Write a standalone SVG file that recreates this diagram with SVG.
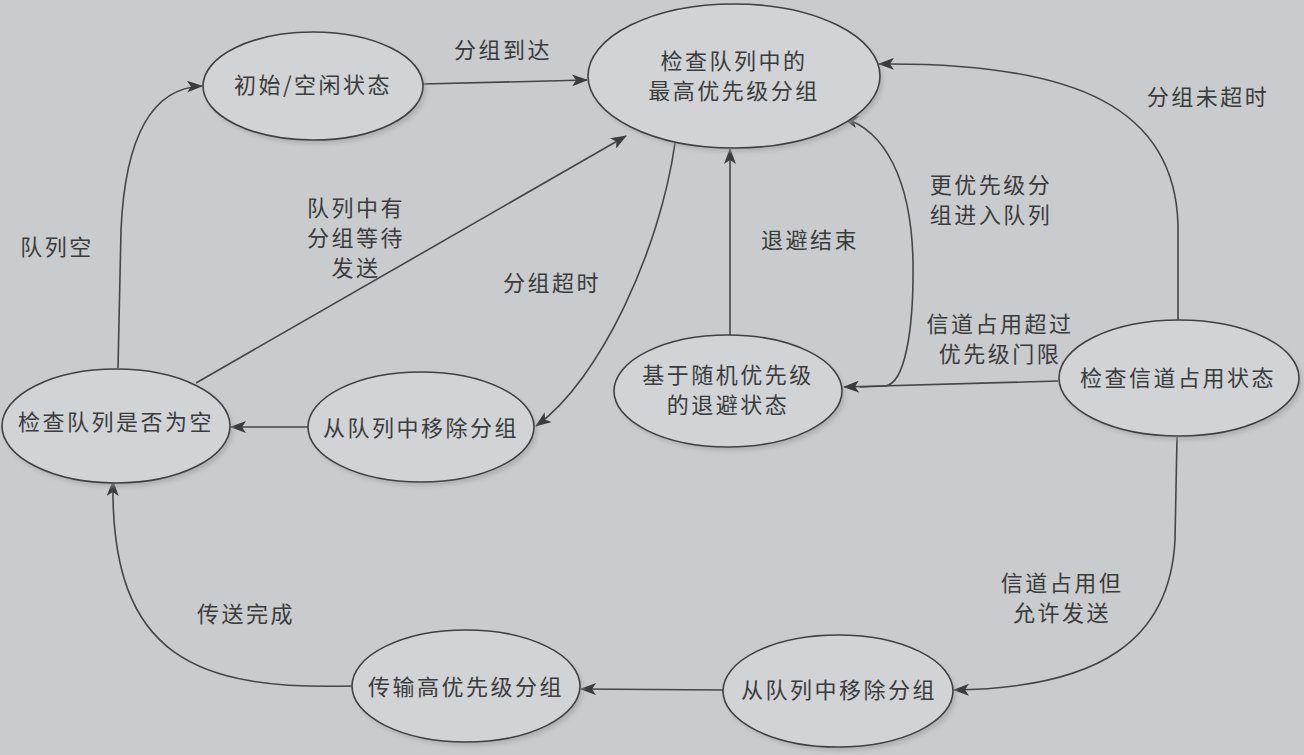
<svg xmlns="http://www.w3.org/2000/svg" width="1304" height="755" viewBox="0 0 1304 755">
<defs>
<style>
.node{fill:#d1d3d4;stroke:#3f4142;stroke-width:1.6}
.sh{fill:#9fa2a3;opacity:0.6}
.t{font-family:"Noto Sans CJK SC","Noto Sans CJK TC",sans-serif;font-size:22px;fill:#3a3c3d;text-anchor:middle;letter-spacing:2.5px}
.c{fill:none;stroke:#444647;stroke-width:1.6}
</style>
<marker id="ah" markerWidth="16" markerHeight="12" refX="15" refY="6" orient="auto" markerUnits="userSpaceOnUse">
<path d="M0,0 L16,6 L0,12 L4,6 Z" fill="#3a3c3d"/>
</marker>
<filter id="bl" x="-10%" y="-10%" width="120%" height="130%"><feGaussianBlur stdDeviation="2"/></filter>
</defs>
<rect width="1304" height="755" fill="#c9cbcc"/>

<g id="connectors">
<path class="c" d="M423,84 L587,80" marker-end="url(#ah)"/>
<path class="c" d="M118,368 L121,230 C125,140 150,88 202,86" marker-end="url(#ah)"/>
<path class="c" d="M196,383 L626,136" marker-end="url(#ah)"/>
<path class="c" d="M675,143 C660,250 600,380 536,426" marker-end="url(#ah)"/>
<path class="c" d="M308,427 L231,427" marker-end="url(#ah)"/>
<path class="c" d="M730,335 L730,149" marker-end="url(#ah)"/>
<path class="c" d="M860,387 L885,386 C905,384 914,330 913,260 C911,180 885,130 843,118" marker-end="url(#ah)"/>
<path class="c" d="M1058,381 L844,387" marker-end="url(#ah)"/>
<path class="c" d="M1178,320 L1178,225 C1175,110 1080,62 879,64" marker-end="url(#ah)"/>
<path class="c" d="M1177,437 L1175,540 C1170,640 1100,688 954,690" marker-end="url(#ah)"/>
<path class="c" d="M723,690 L581,689" marker-end="url(#ah)"/>
<path class="c" d="M352,686 C200,690 110,660 113,481" marker-end="url(#ah)"/>
</g>

<g id="labels">
<text class="t" x="503" y="58">分组到达</text>
<text class="t" x="57" y="255">队列空</text>
<text class="t" x="356" y="216"><tspan x="356">队列中有</tspan><tspan x="356" dy="30">分组等待</tspan><tspan x="356" dy="30">发送</tspan></text>
<text class="t" x="552" y="291">分组超时</text>
<text class="t" x="810" y="248">退避结束</text>
<text class="t" x="991" y="193"><tspan x="991">更优先级分</tspan><tspan x="991" dy="30">组进入队列</tspan></text>
<text class="t" x="1000" y="332"><tspan x="1000">信道占用超过</tspan><tspan x="1000" dy="30">优先级门限</tspan></text>
<text class="t" x="1208" y="105">分组未超时</text>
<text class="t" x="1062" y="591"><tspan x="1062">信道占用但</tspan><tspan x="1062" dy="30">允许发送</tspan></text>
<text class="t" x="246" y="622">传送完成</text>
</g>

<g id="n_idle">
<ellipse class="sh" cx="316" cy="90" rx="110" ry="54" filter="url(#bl)"/>
<ellipse class="node" cx="313" cy="86" rx="110" ry="54"/>
<text class="t" x="313" y="93">初始/空闲状态</text>
</g>
<g id="n_check_top">
<ellipse class="sh" cx="737" cy="80" rx="146" ry="72" filter="url(#bl)"/>
<ellipse class="node" cx="734" cy="76" rx="146" ry="72"/>
<text class="t" x="734" y="69"><tspan x="734">检查队列中的</tspan><tspan x="734" dy="30">最高优先级分组</tspan></text>
</g>
<g id="n_check_empty">
<ellipse class="sh" cx="119" cy="430" rx="114" ry="57" filter="url(#bl)"/>
<ellipse class="node" cx="116" cy="426" rx="114" ry="57"/>
<text class="t" x="116" y="430">检查队列是否为空</text>
</g>
<g id="n_remove_mid">
<ellipse class="sh" cx="424" cy="431" rx="113" ry="55" filter="url(#bl)"/>
<ellipse class="node" cx="421" cy="427" rx="113" ry="55"/>
<text class="t" x="421" y="436">从队列中移除分组</text>
</g>
<g id="n_backoff">
<ellipse class="sh" cx="731" cy="395" rx="114" ry="56" filter="url(#bl)"/>
<ellipse class="node" cx="728" cy="391" rx="114" ry="56"/>
<text class="t" x="728" y="383"><tspan x="728">基于随机优先级</tspan><tspan x="728" dy="30">的退避状态</tspan></text>
</g>
<g id="n_channel">
<ellipse class="sh" cx="1182" cy="382" rx="120" ry="58" filter="url(#bl)"/>
<ellipse class="node" cx="1179" cy="378" rx="120" ry="58"/>
<text class="t" x="1178" y="386">检查信道占用状态</text>
</g>
<g id="n_transmit">
<ellipse class="sh" cx="469" cy="690" rx="114" ry="56" filter="url(#bl)"/>
<ellipse class="node" cx="466" cy="686" rx="114" ry="56"/>
<text class="t" x="466" y="695">传输高优先级分组</text>
</g>
<g id="n_remove_bot">
<ellipse class="sh" cx="841" cy="695" rx="115" ry="56" filter="url(#bl)"/>
<ellipse class="node" cx="838" cy="691" rx="115" ry="56"/>
<text class="t" x="839" y="698">从队列中移除分组</text>
</g>
</svg>
